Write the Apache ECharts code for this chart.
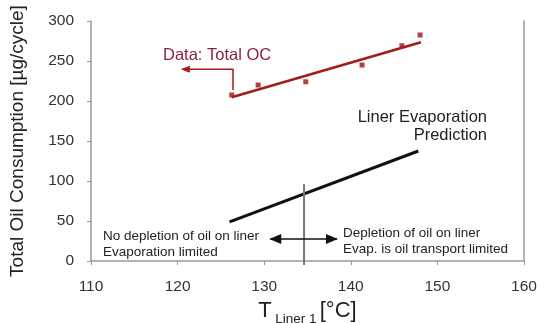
<!DOCTYPE html>
<html><head><meta charset="utf-8">
<script src="https://cdn.jsdelivr.net/npm/echarts@6/dist/echarts.min.js"></script>
<style>html,body{margin:0;padding:0;background:#fff}#c{width:544px;height:323px}</style>
</head><body><div id="c"></div>
<script>
// Data
const xTicks = [110, 120, 130, 140, 150, 160];
const yTicks = [0, 50, 100, 150, 200, 250, 300];
const ocTemp = [126.25, 129.3, 134.8, 141.3, 145.9, 148.0];
const ocValue = [207.5, 220, 224, 245, 269, 282.5];
const trendTemp = [126.25, 148.1];
const trendValue = [204.6, 273.4];
const predTemp = [126.0, 147.8];
const predValue = [49, 137.5];
const boundaryTemp = [134.6, 134.6];
const boundaryValue = [96, -5];
const dblArrowTemp = [130.7, 138.4];
const dblArrowValue = [27.5, 27.5];
const ocArrowTemp = [126.4, 126.4, 120.6];
const ocArrowValue = [213.75, 239.6, 239.6];

const font = 'Liberation Sans, Arial, sans-serif';
const chart = echarts.init(document.getElementById('c'));
const zip = (a, b) => a.map((v, i) => [v, b[i]]);

chart.setOption({
  animation: false,
  grid: {left: 91, right: 20, top: 21, bottom: 62, containLabel: false, outerBoundsMode: 'none'},
  xAxis: {
    type: 'value', min: xTicks[0], max: xTicks[xTicks.length - 1], interval: 10,
    axisLine: {lineStyle: {color: '#999', width: 1.5}},
    axisTick: {show: true, length: 4, lineStyle: {color: '#999'}},
    splitLine: {show: false},
    axisLabel: {fontFamily: font, fontSize: 15.5, color: '#333', margin: 18},
    name: '{big|T} {sub|Liner 1} {big|[°C]}',
    nameLocation: 'middle', nameGap: 36,
    nameTextStyle: {
      rich: {
        big: {fontFamily: font, fontSize: 22, color: '#222', verticalAlign: 'bottom', lineHeight: 24},
        sub: {fontFamily: font, fontSize: 13.5, color: '#222', verticalAlign: 'bottom', padding: [0, 0, -4, 0], lineHeight: 24}
      }
    }
  },
  yAxis: [{
    type: 'value', min: 0, max: 300, interval: 50,
    axisLine: {show: true, lineStyle: {color: '#999', width: 1.5}},
    axisTick: {show: true, length: 4, lineStyle: {color: '#999'}},
    splitLine: {show: false},
    axisLabel: {fontFamily: font, fontSize: 15.5, color: '#333', margin: 17},
    name: 'Total Oil Consumption [µg/cycle]',
    nameLocation: 'middle', nameGap: 64,
    nameTextStyle: {fontFamily: font, fontSize: 19, color: '#222'}
  }, {
    type: 'value', min: 0, max: 300, interval: 50, position: 'right',
    axisLine: {show: true, lineStyle: {color: '#999', width: 1.5}},
    axisTick: {show: false}, axisLabel: {show: false}, splitLine: {show: false}
  }],
  series: [
    {type: 'line', data: zip(trendTemp, trendValue), symbol: 'none',
     lineStyle: {color: '#A51A1A', width: 2.5}},
    {type: 'scatter', data: zip(ocTemp, ocValue), symbol: 'rect', symbolSize: 5,
     itemStyle: {color: '#9B1414'}},
    {type: 'line', data: zip(predTemp, predValue), symbol: 'none',
     lineStyle: {color: '#111', width: 3}},
    {type: 'line', data: zip(boundaryTemp, boundaryValue), symbol: 'none', clip: false,
     lineStyle: {color: '#777', width: 2}},
    {type: 'line', data: zip(dblArrowTemp, dblArrowValue), symbol: 'none',
     lineStyle: {color: '#111', width: 1.5}},
    {type: 'line', data: zip(ocArrowTemp, ocArrowValue), symbol: 'none', clip: false,
     lineStyle: {color: '#A51A1A', width: 1.5}}
  ]
});

function px(t, v) { return chart.convertToPixel({gridIndex: 0}, [t, v]); }
const a0 = px(dblArrowTemp[0], dblArrowValue[0]);
const a1 = px(dblArrowTemp[1], dblArrowValue[1]);
const h = px(ocArrowTemp[2], ocArrowValue[2]);
const txt = (x, y, s) => ({type: 'text', x: x, y: y,
  style: {text: s, font: '13.5px ' + font, fill: '#222', textVerticalAlign: 'middle'}});

chart.setOption({
  graphic: [
    {type: 'polygon', shape: {points: [[a0[0] - 1, a0[1]], [a0[0] + 11, a0[1] - 5], [a0[0] + 11, a0[1] + 5]]}, style: {fill: '#111'}},
    {type: 'polygon', shape: {points: [[a1[0] + 1, a1[1]], [a1[0] - 11, a1[1] - 5], [a1[0] - 11, a1[1] + 5]]}, style: {fill: '#111'}},
    {type: 'polygon', shape: {points: [[h[0] - 2, h[1]], [h[0] + 7, h[1] - 3.5], [h[0] + 7, h[1] + 3.5]]}, style: {fill: '#A51A1A'}},
    {type: 'text', x: 163, y: 55, style: {text: 'Data: Total OC', font: '16.5px ' + font, fill: '#8A2243', textVerticalAlign: 'middle'}},
    {type: 'text', x: 487, y: 117, style: {text: 'Liner Evaporation', font: '16.5px ' + font, fill: '#222', textAlign: 'right', textVerticalAlign: 'middle'}},
    {type: 'text', x: 487, y: 135, style: {text: 'Prediction', font: '16.5px ' + font, fill: '#222', textAlign: 'right', textVerticalAlign: 'middle'}},
    txt(103, 236, 'No depletion of oil on liner'),
    txt(103, 252, 'Evaporation limited'),
    txt(343, 233, 'Depletion of oil on liner'),
    txt(343, 249, 'Evap. is oil transport limited')
  ]
});
</script></body></html>
